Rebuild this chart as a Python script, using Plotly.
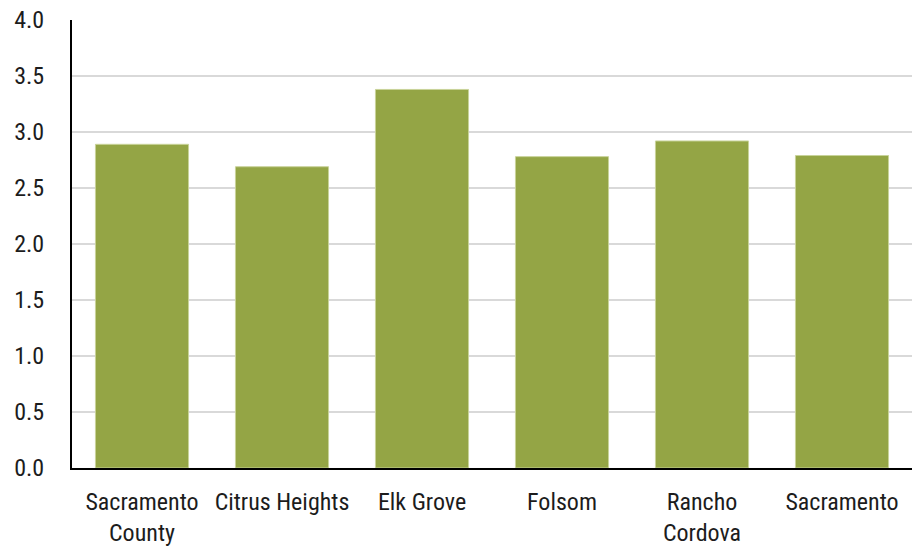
import plotly.graph_objects as go

# Average household size by jurisdiction
places = ["Sacramento<br>County", "Citrus Heights", "Elk Grove", "Folsom", "Rancho<br>Cordova", "Sacramento"]
household_size = [2.89, 2.69, 3.38, 2.78, 2.92, 2.79]
y_ticks = [0.0, 0.5, 1.0, 1.5, 2.0, 2.5, 3.0, 3.5, 4.0]

FONT = "Roboto Condensed, DejaVu Sans Condensed, sans-serif"
TEXT = "#1c1c1c"
SIZE = 24

fig = go.Figure(
    go.Bar(
        x=places,
        y=household_size,
        marker=dict(color="#94a545", line=dict(color="#c9d39a", width=1)),
        hoverinfo="x+y",
    )
)

fig.update_layout(
    width=916,
    height=546,
    margin=dict(l=72, r=4, t=20, b=78),
    paper_bgcolor="white",
    plot_bgcolor="white",
    bargap=0.335,
    showlegend=False,
    font=dict(family=FONT, size=SIZE, color=TEXT),
)

fig.update_xaxes(
    automargin=False,
    showline=True,
    linecolor="black",
    linewidth=2,
    showgrid=False,
    ticks="",
    ticklabelstandoff=11,
    tickfont=dict(family=FONT, size=SIZE, color=TEXT),
)

fig.update_yaxes(
    automargin=False,
    range=[0, 4.0],
    tickvals=y_ticks,
    ticktext=[f"{v:.1f}" for v in y_ticks],
    showline=True,
    linecolor="black",
    linewidth=2,
    showgrid=True,
    gridcolor="#d9d9d9",
    gridwidth=1.5,
    zeroline=False,
    ticks="",
    ticklabelstandoff=21,
    tickfont=dict(family=FONT, size=SIZE, color=TEXT),
)

fig.write_html("out.html")
